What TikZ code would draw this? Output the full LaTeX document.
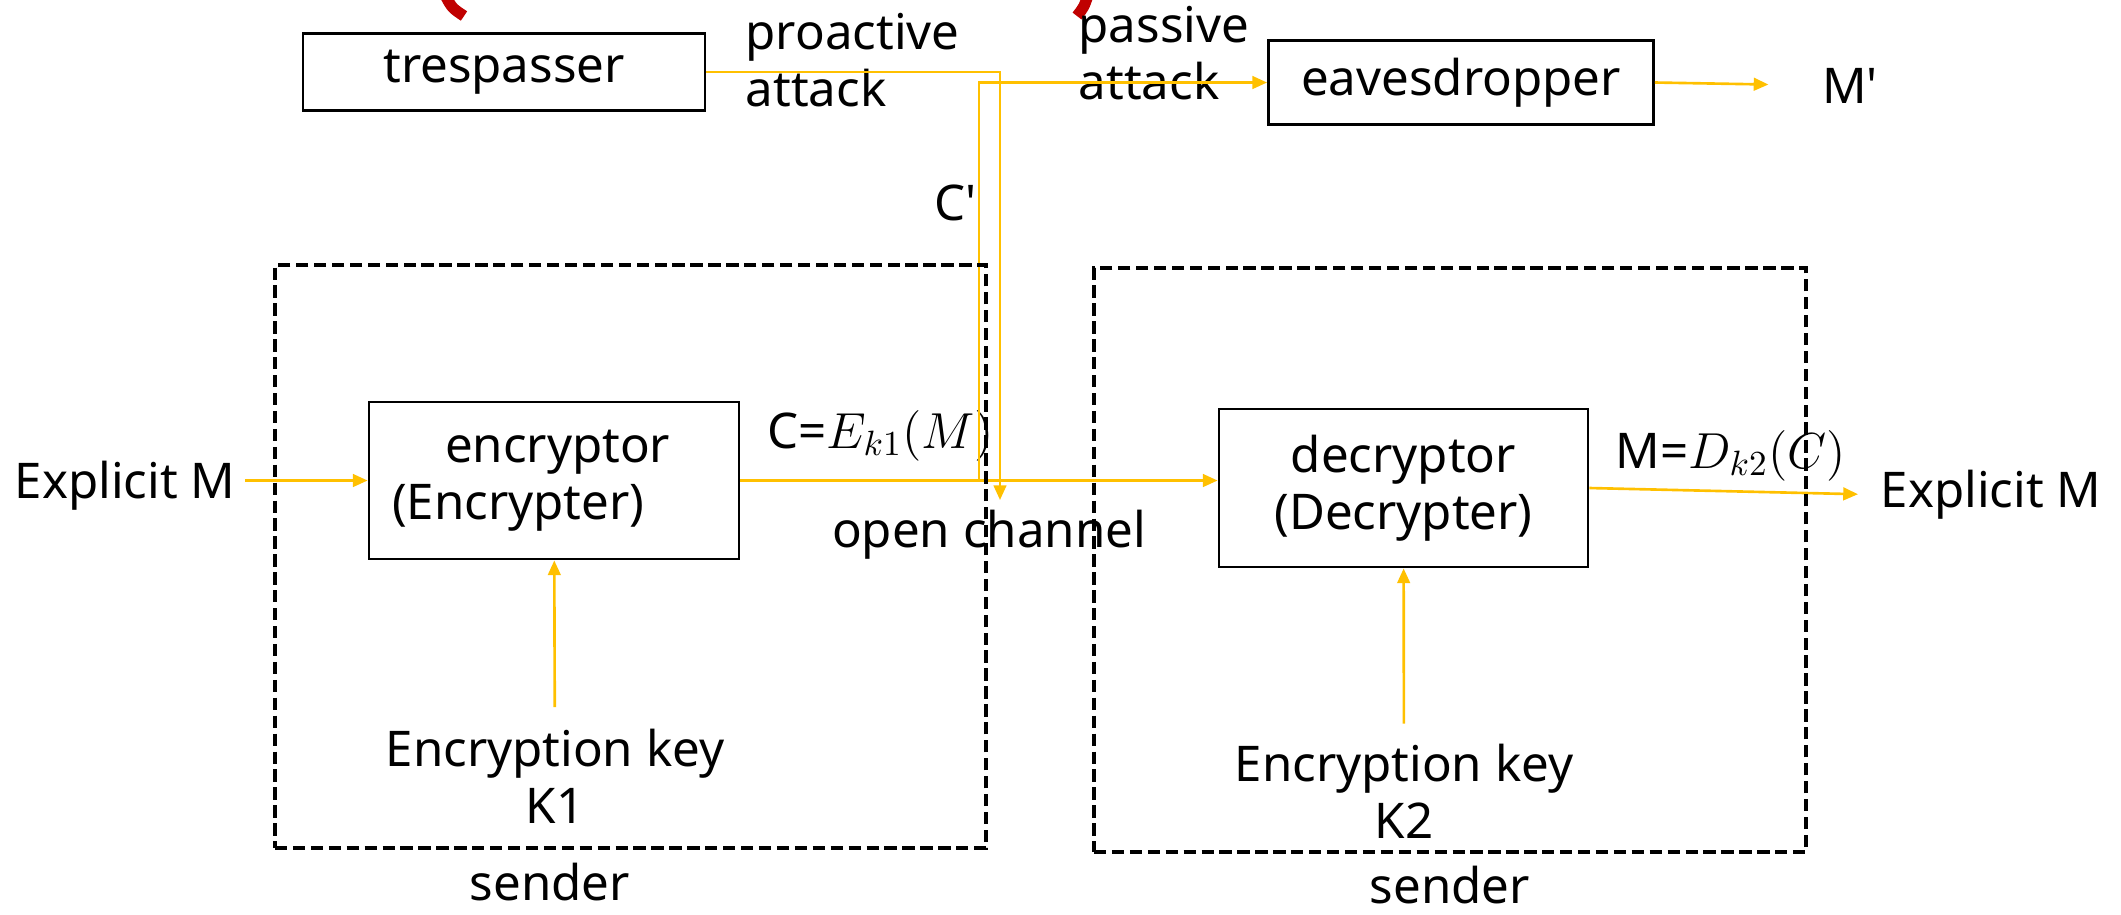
\documentclass[tikz,border=0pt]{standalone}
\usepackage{fontspec}
\setmainfont{Noto Sans}[Ligatures = TeXOff]
\usepackage{tikz}
\usetikzlibrary{arrows.meta, positioning}

\definecolor{attack}{HTML}{FFC000}
\definecolor{markred}{HTML}{C00000}

\begin{document}
\begin{tikzpicture}[
    font = \fontsize{14}{16.2}\selectfont,
    box/.style = {draw, rectangle, line width = 0.8pt, inner sep = 0pt},
    zone/.style = {draw, rectangle, line width = 0.9pt, inner sep = 0pt,
      dash pattern = on 3.5pt off 1.6pt},
    txt/.style = {inner sep = 0pt},
    flow/.style = {draw = attack, line width = 0.75pt,
      -{Triangle[length = 4.2pt, width = 3.6pt]}},
  ]
  \useasboundingbox (0, 0) rectangle (21.21, -9.14);

  % the two red marks cut off at the top
  \draw [markred, line width = 3.2pt] (4.45, 0.05) .. controls (4.52, -0.08) .. (4.64, -0.16);
  \draw [markred, line width = 3.2pt] (10.88, 0.05) .. controls (10.84, -0.07) .. (10.77, -0.16);

  % attackers
  \node [box, minimum width = 4.02cm, minimum height = 0.77cm] (tresp) at (5.04, -0.72) {trespasser};
  \node [box, minimum width = 3.85cm, minimum height = 0.84cm] (eaves) at (14.61, -0.825) {eavesdropper};
  \node [txt, anchor = base] (mfake) at (18.50, -1.03) {M'};
  \node [txt, align = left, anchor = north west] (proact) at (7.45, -0.13) {proactive\\attack};
  \node [txt, align = left, anchor = north west] (passive) at (10.78, -0.06) {passive\\attack};
  \node [txt, anchor = base east] (cfake) at (9.77, -2.20) {C'};

  % sender and receiver
  \node [box, minimum width = 3.70cm, minimum height = 1.57cm, text width = 3.24cm,
    inner xsep = 0.23cm, align = left] (enc) at (5.54, -4.805)
    {\hspace*{0.53cm}encryptor\\(Encrypter)};
  \node [box, minimum width = 3.69cm, minimum height = 1.58cm, align = center]
    (dec) at (14.035, -4.88) {decryptor\\(Decrypter)};

  \node [txt, inner xsep = 0.09cm, anchor = base west] (plainin) at (0.05, -4.98) {Explicit M};
  \node [txt, inner xsep = 0.22cm, anchor = base west] (plainout) at (18.58, -5.07) {Explicit M};
  \node [txt, anchor = base west] (cipher) at (7.67, -4.48) {C=$E_{k1}(M)$};
  \node [txt, anchor = base west] (plain) at (16.15, -4.68) {M=$D_{k2}(C)$};
  \node [txt, anchor = base] (channel) at (9.89, -5.47) {open channel};

  \node [txt, inner ysep = 0.21cm, align = center] (key1) at (5.55, -7.76) {Encryption key\\K1};
  \node [txt, inner ysep = 0.20cm, align = center] (key2) at (14.04, -7.915) {Encryption key\\K2};

  \node [txt, anchor = base] (sender1) at (5.50, -9.00) {sender};
  \node [txt, anchor = base] (sender2) at (14.50, -9.03) {sender};

  \coordinate (tap) at (10.00, -5.00);
  \coordinate (tapin) at (9.79, -4.79);

  \draw [flow] (plainin.east |- enc.west) -- (enc.west);
  \draw [flow] (enc.east) -- (enc.east -| dec.west);
  \draw [flow] (dec.east) -- (plainout.west);
  \draw [flow] (key1) -- (enc);
  \draw [flow] (key2) -- (dec);
  \draw [flow] (tresp.east) -| (tap);
  \draw [flow] (tapin) |- (eaves.west);
  \draw [flow, shorten > = 0.53cm] (eaves.east) -- (mfake.west);

  % dashed areas drawn last, on top
  \node [zone, minimum width = 7.11cm, minimum height = 5.83cm] (sendzone) at (6.305, -5.565) {};
  \node [zone, minimum width = 7.12cm, minimum height = 5.84cm] (recvzone) at (14.50, -5.60) {};
\end{tikzpicture}
\end{document}
